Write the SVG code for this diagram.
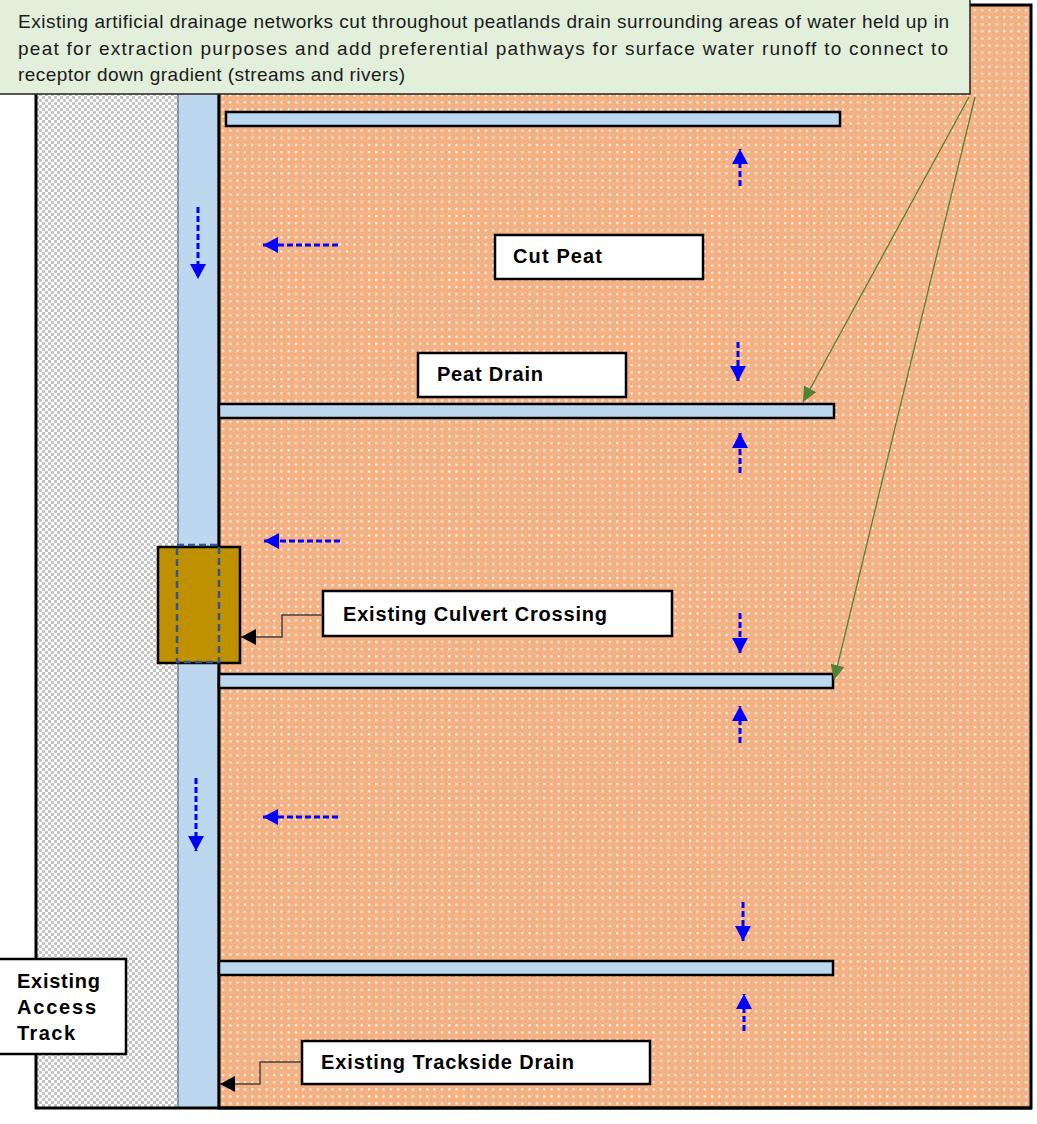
<svg xmlns="http://www.w3.org/2000/svg" width="1037" height="1124" viewBox="0 0 1037 1124">
  <defs>
    <pattern id="checker" width="6" height="6" patternUnits="userSpaceOnUse">
      <rect width="6" height="6" fill="#ffffff"/>
      <rect width="3" height="3" fill="#c4c4c4"/>
      <rect x="3" y="3" width="3" height="3" fill="#c4c4c4"/>
    </pattern>
    <pattern id="peatDots" width="7.3" height="7.1" patternUnits="userSpaceOnUse" x="1" y="0">
      <rect width="7.3" height="7.1" fill="#F4B183"/>
      <rect x="2" y="2" width="2" height="2" fill="#ffffff"/>
    </pattern>
    <marker id="blueHead" markerUnits="userSpaceOnUse" markerWidth="16" markerHeight="16" refX="15" refY="8" orient="auto">
      <path d="M0,0 L15,8 L0,16 z" fill="#0000FF"/>
    </marker>
    <marker id="greenHead" markerUnits="userSpaceOnUse" markerWidth="16" markerHeight="14" refX="15" refY="7" orient="auto">
      <path d="M0,0 L15,7 L0,14 z" fill="#548235"/>
    </marker>
    <marker id="blackHead" markerUnits="userSpaceOnUse" markerWidth="16" markerHeight="16" refX="15" refY="8" orient="auto">
      <path d="M0,0 L15,8 L0,16 z" fill="#000000"/>
    </marker>
    <style>
      .drain { fill: #BDD7EE; stroke: #000; stroke-width: 2.5; }
      .label { fill: #ffffff; stroke: #000; stroke-width: 2.5; }
      .lbl { font-family: "Liberation Sans", Arial, sans-serif; font-weight: bold; font-size: 20px; fill: #000; }
      .note { font-family: "Liberation Sans", Arial, sans-serif; font-size: 19px; fill: #1a1a1a; }
      .flow { stroke: #0000FF; stroke-width: 3; stroke-dasharray: 6 3; fill: none; marker-end: url(#blueHead); }
      .leader { stroke: #404040; stroke-width: 1.5; fill: none; marker-end: url(#blackHead); }
      .callout { stroke: #548235; stroke-width: 1.3; fill: none; marker-end: url(#greenHead); }
    </style>
  </defs>

  <rect width="1037" height="1124" fill="#ffffff"/>

  <!-- access track (chequered) -->
  <g id="access-track">
    <rect x="36" y="5" width="142" height="1103" fill="url(#checker)"/>
    <line x1="36" y1="5" x2="36" y2="1109" stroke="#000" stroke-width="3"/>
  </g>

  <!-- trackside drain -->
  <g id="trackside-drain">
    <rect x="178" y="5" width="40" height="1103" fill="#BDD7EE" stroke="#555" stroke-width="1"/>
  </g>

  <!-- cut peat area -->
  <g id="cut-peat-area">
    <rect x="219" y="5" width="812" height="1103" fill="url(#peatDots)" stroke="#000" stroke-width="3"/>
    <line x1="35" y1="1108" x2="1032" y2="1108" stroke="#000" stroke-width="3"/>
  </g>

  <!-- peat drains -->
  <g id="peat-drain-1"><rect class="drain" x="226" y="112" width="614" height="14"/></g>
  <g id="peat-drain-2"><rect class="drain" x="219" y="404" width="615" height="14"/></g>
  <g id="peat-drain-3"><rect class="drain" x="219" y="674" width="614" height="14"/></g>
  <g id="peat-drain-4"><rect class="drain" x="219" y="961" width="614" height="14"/></g>

  <!-- culvert crossing -->
  <g id="culvert">
    <rect x="158" y="547" width="82" height="116" fill="#BF9000" stroke="#000" stroke-width="2.5"/>
    <rect x="177" y="545" width="42" height="117" fill="none" stroke="#2F5597" stroke-width="2.5" stroke-dasharray="7 4"/>
  </g>

  <!-- note box -->
  <g id="note">
    <rect x="-1" y="-1" width="971" height="95" fill="#E2EFDA" stroke="#222" stroke-width="1.5"/>
    <text class="note" x="18" y="28" textLength="931" lengthAdjust="spacing">Existing artificial drainage networks cut throughout peatlands drain surrounding areas of water held up in</text>
    <text class="note" x="18" y="55" textLength="930" lengthAdjust="spacing">peat for extraction purposes and add preferential pathways for surface water runoff to connect to</text>
    <text class="note" x="18" y="81" textLength="387" lengthAdjust="spacing">receptor down gradient (streams and rivers)</text>
  </g>

  <!-- labels -->
  <g id="label-cut-peat">
    <rect class="label" x="495" y="235" width="208" height="44"/>
    <text class="lbl" x="513" y="263" textLength="89" lengthAdjust="spacing">Cut Peat</text>
  </g>
  <g id="label-peat-drain">
    <rect class="label" x="418" y="353" width="208" height="44"/>
    <text class="lbl" x="437" y="381" textLength="106" lengthAdjust="spacing">Peat Drain</text>
  </g>
  <g id="label-culvert">
    <rect class="label" x="323" y="591" width="349" height="45"/>
    <text class="lbl" x="343" y="621" textLength="264" lengthAdjust="spacing">Existing Culvert Crossing</text>
  </g>
  <g id="label-trackside">
    <rect class="label" x="302" y="1041" width="348" height="43"/>
    <text class="lbl" x="321" y="1069" textLength="253" lengthAdjust="spacing">Existing Trackside Drain</text>
  </g>
  <g id="label-access">
    <rect class="label" x="-2" y="959" width="128" height="95"/>
    <text class="lbl" x="17" y="988" textLength="83" lengthAdjust="spacing">Existing</text>
    <text class="lbl" x="17" y="1014" textLength="79" lengthAdjust="spacing">Access</text>
    <text class="lbl" x="17" y="1040" textLength="58" lengthAdjust="spacing">Track</text>
  </g>

  <!-- connectors -->
  <g id="connectors">
    <!-- flow directions -->
    <line class="flow" x1="198" y1="207" x2="198" y2="279"/>
    <line class="flow" x1="196" y1="778" x2="196" y2="851"/>
    <line class="flow" x1="338" y1="245" x2="263" y2="245"/>
    <line class="flow" x1="340" y1="541" x2="264" y2="541"/>
    <line class="flow" x1="338" y1="817" x2="263" y2="817"/>
    <line class="flow" x1="740" y1="186" x2="740" y2="149"/>
    <line class="flow" x1="738" y1="342" x2="738" y2="381"/>
    <line class="flow" x1="740" y1="473" x2="740" y2="433"/>
    <line class="flow" x1="740" y1="613" x2="740" y2="653"/>
    <line class="flow" x1="740" y1="743" x2="740" y2="706"/>
    <line class="flow" x1="743" y1="902" x2="743" y2="941"/>
    <line class="flow" x1="744" y1="1031" x2="744" y2="994"/>
    <!-- note callouts -->
    <line class="callout" x1="969" y1="97" x2="803" y2="402"/>
    <line class="callout" x1="975" y1="97" x2="834" y2="680"/>
    <!-- label leaders -->
    <polyline class="leader" points="323,615 282,615 282,637 241,637"/>
    <polyline class="leader" points="302,1062 260,1062 260,1084 220,1084"/>
  </g>
</svg>
